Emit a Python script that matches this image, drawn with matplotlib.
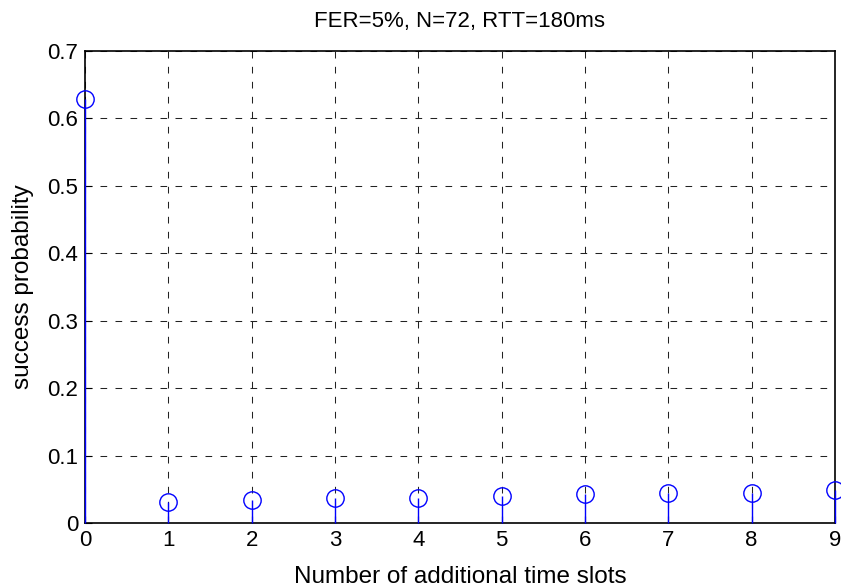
import matplotlib
matplotlib.use("Agg")
import matplotlib.pyplot as plt
import numpy as np

plt.rcParams['font.family'] = ['Liberation Sans', 'DejaVu Sans']
plt.rcParams['lines.scale_dashes'] = False

slots = [0, 1, 2, 3, 4, 5, 6, 7, 8, 9]
prob = [0.628, 0.032, 0.034, 0.037, 0.037, 0.040, 0.043, 0.045, 0.045, 0.049]

W, H = 841, 588
x0, x1, y_top, y_bot = 85, 835, 50.7, 523.3

fig = plt.figure(figsize=(W / 100, H / 100), dpi=100)
ax = fig.add_axes([x0 / W, 1 - y_bot / H, (x1 - x0) / W, (y_bot - y_top) / H])

ml, sl, bl = ax.stem(slots, prob, basefmt=' ')
plt.setp(sl, color='#0000ff', linewidth=1.0, zorder=3)
plt.setp(ml, color='#0000ff', marker='o', markerfacecolor='none',
         markersize=12.5, markeredgewidth=1.0, zorder=4)
for a in [ml, sl]:
    a.set_clip_on(False)

ax.set_xlim(0, 9)
ax.set_ylim(0, 0.7)
ax.set_xticks(np.arange(0, 10, 1))
ax.set_yticks(np.arange(0, 0.71, 0.1))
ax.set_yticklabels(['0', '0.1', '0.2', '0.3', '0.4', '0.5', '0.6', '0.7'])
ax.grid(True, color='#222222', linestyle=(0, (4.8, 6.0)), linewidth=0.75)
ax.tick_params(direction='in', labelsize=16, length=5, pad=5)
for s in ax.spines.values():
    s.set_linewidth(1.2)

ah = y_bot - y_top
ax.set_xlabel('Number of additional time slots', fontsize=17.5)
ax.xaxis.label.set_va('center')
ax.xaxis.set_label_coords(0.5, -(577 - y_bot) / ah)
ax.set_ylabel('success probability', fontsize=17.5)
ax.yaxis.label.set_va('center')
ax.yaxis.set_label_coords(-(x0 - 23) / (x1 - x0), 0.5)
ax.set_title('FER=5%, N=72, RTT=180ms', fontsize=16, va='center',
             y=(y_bot - 22) / ah, pad=0)

fig.savefig('out.png', dpi=100)
